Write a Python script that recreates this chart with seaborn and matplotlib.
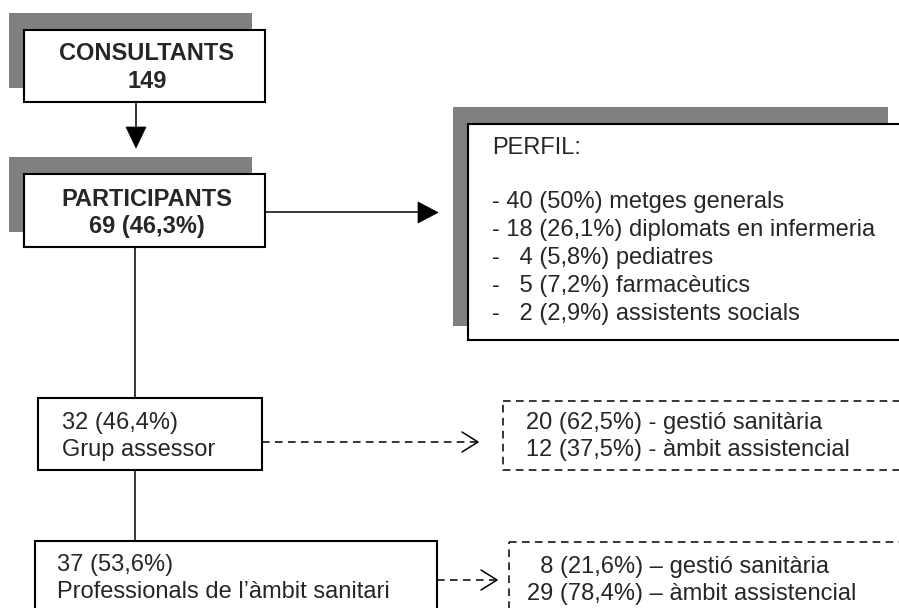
import numpy as np
import pandas as pd
import seaborn as sb
import matplotlib.pyplot as plt
from matplotlib.patches import Rectangle, Polygon

sb.set_style('white')
plt.rcParams['font.family'] = ['Liberation Sans', 'DejaVu Sans']

# data
consultants = 149
participants = 69
part_pct = '46,3'
perfil_n = [40, 18, 4, 5, 2]
perfil_pct = ['50', '26,1', '5,8', '7,2', '2,9']
perfil_lab = ['metges generals', 'diplomats en infermeria', 'pediatres',
              'farmacèutics', 'assistents socials']
perfil_pre = ['- ', '- ', '-   ', '-   ', '-   ']
grups = ['Grup assessor', 'Professionals de l\u2019àmbit sanitari']
grups_n = [32, 37]
grups_pct = ['46,4', '53,6']
sub_n = [[20, 12], [8, 29]]
sub_pct = [['62,5', '37,5'], ['21,6', '78,4']]
sub_lab = ['gestió sanitària', 'àmbit assistencial']
sub_sep = [' - ', ' \u2013 ']

fig = plt.figure(figsize=(8.99, 6.08), dpi=100)
ax = fig.add_axes([0, 0, 1, 1])
ax.set_xlim(0, 899)
ax.set_ylim(608, 0)
ax.axis('off')

FS = 17
grey = '#808080'

def shadow_box(x0, y0, x1, y1, sx0, sy0, sx1, sy1):
    ax.add_patch(Rectangle((sx0, sy0), sx1 - sx0, sy1 - sy0, fc=grey, ec='none', zorder=1))
    ax.add_patch(Rectangle((x0, y0), x1 - x0, y1 - y0, fc='white', ec='black', lw=1.5, zorder=2))

# CONSULTANTS
shadow_box(24, 30, 265, 102, 9, 13, 252, 88)
ax.text(147, 53, 'CONSULTANTS', ha='center', va='center', fontsize=FS, fontweight='bold', zorder=3)
ax.text(147, 82, str(consultants), ha='center', va='center', fontsize=FS, fontweight='bold', zorder=3)

# arrow down
ax.plot([136, 136], [102, 128], color='black', lw=1.1)
ax.add_patch(Polygon([[126, 127], [146, 127], [136, 148]], closed=True, fc='black', ec='black', lw=0.5))

# PARTICIPANTS
shadow_box(24, 174, 265, 247, 9, 157, 252, 232)
ax.text(147, 199, 'PARTICIPANTS', ha='center', va='center', fontsize=FS, fontweight='bold', zorder=3)
ax.text(147, 227, f'{participants} ({part_pct}%)', ha='center', va='center', fontsize=FS,
        fontweight='bold', zorder=3)

# arrow right
ax.plot([265, 420], [212, 212], color='black', lw=1.1)
ax.add_patch(Polygon([[418, 202], [418, 223], [438, 212.5]], closed=True, fc='black', ec='black', lw=0.5))

# PERFIL box
shadow_box(468, 124, 910, 340, 453, 107, 888, 326)
ax.text(492, 148, 'PERFIL:', ha='left', va='center', fontsize=FS, zorder=3)
for i, (p, n, pc, lab) in enumerate(zip(perfil_pre, perfil_n, perfil_pct, perfil_lab)):
    ax.text(492, 202 + i * 28, f'{p}{n} ({pc}%) {lab}', ha='left', va='center', fontsize=FS, zorder=3)

# vertical trunk
ax.plot([135, 135], [247, 398], color='black', lw=1.1)
ax.plot([135, 135], [470, 541], color='black', lw=1.1)

# group boxes
gbox = [(38, 398, 262, 470), (35, 541, 437, 640)]
gtxt_x = [62, 57]
gtxt_y = [423, 565]
for i in range(2):
    x0, y0, x1, y1 = gbox[i]
    ax.add_patch(Rectangle((x0, y0), x1 - x0, y1 - y0, fc='white', ec='black', lw=1.5, zorder=2))
    ax.text(gtxt_x[i], gtxt_y[i], f'{grups_n[i]} ({grups_pct[i]}%)', ha='left', va='center',
            fontsize=FS, zorder=3)
    ax.text(gtxt_x[i], gtxt_y[i] + 27, grups[i], ha='left', va='center', fontsize=FS, zorder=3)

# dashed arrows and dashed boxes
dash = (0, (5, 3.5))
arr = [(262, 478, 442), (437, 497, 580)]
dbox = [(503, 401, 910, 470), (509, 542, 910, 640)]
dtxt_x = [526, 527]
dtxt_y = [423, 567]
for i in range(2):
    xs, xt, y = arr[i]
    ax.plot([xs, xt - 2], [y, y], color='black', lw=1.1, ls=dash)
    ax.plot([xt - 16, xt, xt - 16], [y - 10, y, y + 10], color='black', lw=1.1)
    x0, y0, x1, y1 = dbox[i]
    ax.add_patch(Rectangle((x0, y0), x1 - x0, y1 - y0, fc='none', ec='black', lw=1.1, ls=dash, zorder=2))
    for j in range(2):
        n = sub_n[i][j]
        pre = '  ' if n < 10 else ''
        ax.text(dtxt_x[i], dtxt_y[i] + j * 27, f'{pre}{n} ({sub_pct[i][j]}%){sub_sep[i]}{sub_lab[j]}',
                ha='left', va='center', fontsize=FS, zorder=3)

plt.savefig('out.png', dpi=100)
